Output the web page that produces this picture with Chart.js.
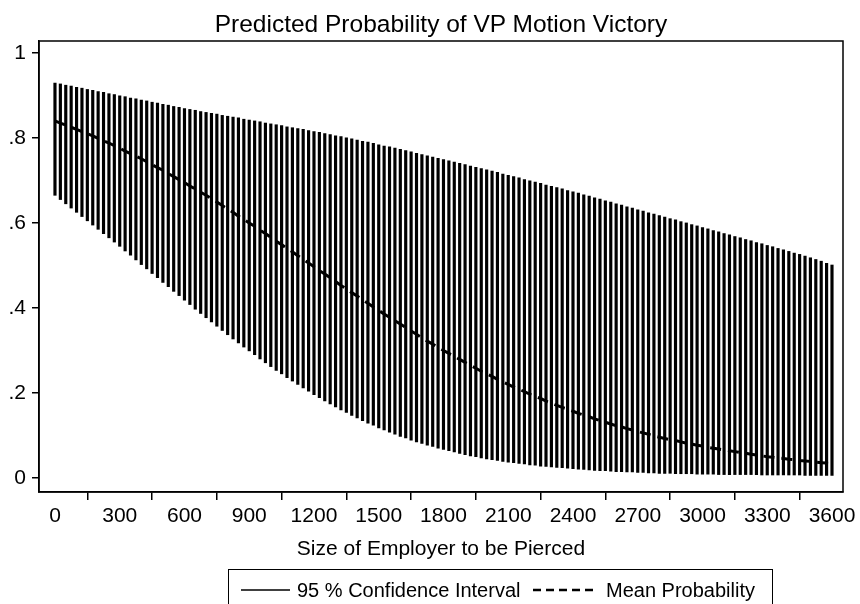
<!DOCTYPE html>
<html>
<head>
<meta charset="utf-8">
<script src="https://cdn.jsdelivr.net/npm/chart.js@4/dist/chart.umd.min.js"></script>
<style>
  html, body { margin: 0; padding: 0; background: #fff; }
  #wrap { position: relative; width: 860px; height: 604px; overflow: hidden; background: #fff; }
  #title { position: absolute; left: 0; top: 10px; width: 882px; text-align: center; font-family: "Liberation Sans", Arial, sans-serif; font-size: 24.5px; line-height: 28px; color: #000; white-space: nowrap; }
  #legend { position: absolute; left: 228px; top: 569px; width: 545px; height: 60px; border: 1.5px solid #000; box-sizing: border-box; font-family: "Liberation Sans", Arial, sans-serif; font-size: 20px; color: #000; }
  #legend .t { position: absolute; top: 9px; white-space: nowrap; line-height: 22px; }
  #legend svg { position: absolute; top: 0; left: 0; }
</style>
</head>
<body>
<div id="wrap">
  <canvas id="c" width="860" height="604"></canvas>
  <div id="title">Predicted Probability of VP Motion Victory</div>
  <div id="legend">
    <svg width="545" height="60">
      <line x1="12" y1="20" x2="61" y2="20" stroke="#000" stroke-width="1.5"></line>
      <line x1="304" y1="20" x2="368" y2="20" stroke="#000" stroke-width="2.5" stroke-dasharray="8 5"></line>
    </svg>
    <span class="t" style="left:68px">95 % Confidence Interval</span>
    <span class="t" style="left:377px">Mean Probability</span>
  </div>
</div>
<script>
const sizes = [0,25,50,75,100,125,150,175,200,225,250,275,300,325,350,375,400,425,450,475,500,525,550,575,600,625,650,675,700,725,750,775,800,825,850,875,900,925,950,975,1000,1025,1050,1075,1100,1125,1150,1175,1200,1225,1250,1275,1300,1325,1350,1375,1400,1425,1450,1475,1500,1525,1550,1575,1600,1625,1650,1675,1700,1725,1750,1775,1800,1825,1850,1875,1900,1925,1950,1975,2000,2025,2050,2075,2100,2125,2150,2175,2200,2225,2250,2275,2300,2325,2350,2375,2400,2425,2450,2475,2500,2525,2550,2575,2600,2625,2650,2675,2700,2725,2750,2775,2800,2825,2850,2875,2900,2925,2950,2975,3000,3025,3050,3075,3100,3125,3150,3175,3200,3225,3250,3275,3300,3325,3350,3375,3400,3425,3450,3475,3500,3525,3550,3575,3600];

const ciUpper = [
  .929,.927,.924,.922, .919,.917,.914,.912, .909,.907,.904,.902, .899,.897,.894,.892,
  .889,.887,.884,.882, .879,.877,.874,.872, .869,.867,.865,.862, .860,.858,.856,.853,
  .851,.849,.847,.844, .842,.840,.838,.835, .833,.831,.829,.826, .824,.822,.820,.817,
  .815,.813,.810,.808, .805,.803,.800,.798, .795,.792,.790,.787, .784,.781,.779,.776,
  .773,.770,.767,.764, .761,.758,.755,.752, .749,.746,.743,.740, .737,.734,.731,.728,
  .725,.722,.719,.715, .712,.709,.706,.702, .699,.696,.693,.689, .686,.683,.680,.676,
  .673,.670,.666,.663, .659,.656,.652,.649, .645,.642,.638,.635, .631,.628,.624,.621,
  .617,.614,.610,.607, .603,.600,.596,.593, .589,.586,.582,.579, .575,.572,.568,.565,
  .561,.558,.554,.551, .547,.544,.540,.537, .533,.529,.526,.522, .518,.514,.510,.505,
  .501
];

const ciLower = [
  .665,.655,.645,.635, .625,.615,.605,.595, .585,.575,.565,.555, .545,.534,.524,.513,
  .502,.492,.481,.471, .460,.450,.439,.429, .418,.408,.397,.387, .377,.367,.357,.347,
  .337,.327,.318,.308, .299,.290,.280,.271, .262,.253,.245,.236, .228,.220,.212,.204,
  .196,.189,.181,.174, .167,.160,.154,.147, .141,.135,.129,.124, .118,.113,.108,.103,
  .098,.094,.089,.085, .081,.077,.074,.070, .067,.064,.061,.058, .055,.052,.050,.047,
  .045,.043,.041,.039, .037,.036,.034,.033, .031,.030,.028,.027, .026,.025,.024,.023,
  .022,.021,.020,.019, .018,.017,.017,.016, .015,.015,.014,.014, .013,.013,.012,.012,
  .011,.011,.011,.010, .010,.010,.010,.009, .009,.009,.009,.008, .008,.008,.008,.008,
  .008,.008,.008,.007, .007,.007,.007,.007, .007,.007,.007,.006, .006,.006,.006,.006,
  .006
];

const meanProb = [
  .840,.835,.830,.825, .820,.815,.810,.805, .799,.793,.788,.782, .776,.769,.763,.757,
  .751,.744,.737,.730, .724,.716,.709,.702, .695,.687,.680,.672, .665,.657,.649,.641,
  .633,.625,.616,.608, .600,.592,.583,.575, .566,.557,.549,.540, .532,.523,.514,.506,
  .497,.488,.480,.471, .462,.453,.445,.436, .428,.419,.411,.402, .394,.386,.378,.370,
  .362,.354,.346,.338, .330,.322,.315,.307, .300,.293,.286,.279, .272,.265,.258,.251,
  .245,.239,.232,.226, .220,.214,.209,.203, .197,.192,.187,.181, .176,.171,.166,.162,
  .157,.152,.148,.144, .139,.135,.131,.127, .123,.120,.116,.113, .109,.106,.103,.099,
  .096,.093,.090,.088, .085,.082,.080,.077, .075,.072,.070,.068, .066,.064,.062,.060,
  .058,.056,.054,.052, .050,.049,.047,.046, .044,.043,.041,.040, .039,.037,.036,.035,
  .034
];

const xTicks = [0,300,600,900,1200,1500,1800,2100,2400,2700,3000,3300,3600];
const yTicks = [0,0.2,0.4,0.6,0.8,1];
const yTickLabels = ['0','.2','.4','.6','.8','1'];

const FONT = '"Liberation Sans", Arial, sans-serif';

const framePlugin = {
  id: 'frame',
  afterDraw(chart) {
    const {ctx, chartArea: a} = chart;
    ctx.save();
    ctx.strokeStyle = '#000';
    ctx.lineWidth = 1.5;
    ctx.strokeRect(a.left, a.top, a.right - a.left, a.bottom - a.top);
    ctx.restore();
  }
};

new Chart(document.getElementById('c'), {
  type: 'bar',
  data: {
    datasets: [
      {
        type: 'bar',
        label: '95 % Confidence Interval',
        data: sizes.map((x, i) => ({x: x, y: [ciLower[i], ciUpper[i]]})),
        backgroundColor: '#000',
        borderWidth: 0,
        barThickness: 2.5,
        grouped: false,
        order: 2
      },
      {
        type: 'line',
        label: 'Mean Probability',
        data: sizes.map((x, i) => ({x: x, y: meanProb[i]})),
        borderColor: '#000',
        borderWidth: 3,
        borderDash: [11, 7],
        pointRadius: 0,
        fill: false,
        tension: 0,
        order: 1
      }
    ]
  },
  options: {
    responsive: false,
    animation: false,
    devicePixelRatio: 1,
    layout: { padding: { left: 0, right: 17, top: 41, bottom: 40 } },
    plugins: {
      legend: { display: false },
      tooltip: { enabled: false },
      title: { display: false }
    },
    scales: {
      x: {
        type: 'linear',
        min: -74,
        max: 3651,
        offset: false,
        afterBuildTicks: s => { s.ticks = xTicks.map(v => ({value: v})); },
        afterFit: s => { s.height = 72; },
        ticks: { color: '#000', font: { family: FONT, size: 21 }, padding: 4, maxRotation: 0, autoSkip: false, callback: v => String(v) },
        grid: { display: true, drawOnChartArea: false, drawTicks: true, tickLength: 8, color: '#000', lineWidth: 1.5 },
        border: { display: true, color: '#000', width: 1.5 },
        title: { display: true, text: 'Size of Employer to be Pierced', color: '#000', font: { family: FONT, size: 21 }, padding: { top: 0, bottom: 2 } }
      },
      y: {
        type: 'linear',
        min: -0.033,
        max: 1.028,
        afterBuildTicks: s => { s.ticks = yTicks.map(v => ({value: v})); },
        afterFit: s => { s.width = 39; },
        ticks: { color: '#000', font: { family: FONT, size: 21 }, padding: 6, callback: (v) => yTickLabels[yTicks.indexOf(v)] },
        grid: { display: true, drawOnChartArea: false, drawTicks: true, tickLength: 7, color: '#000', lineWidth: 1.5 },
        border: { display: true, color: '#000', width: 1.5 }
      }
    }
  },
  plugins: [framePlugin]
});
</script>
</body>
</html>
